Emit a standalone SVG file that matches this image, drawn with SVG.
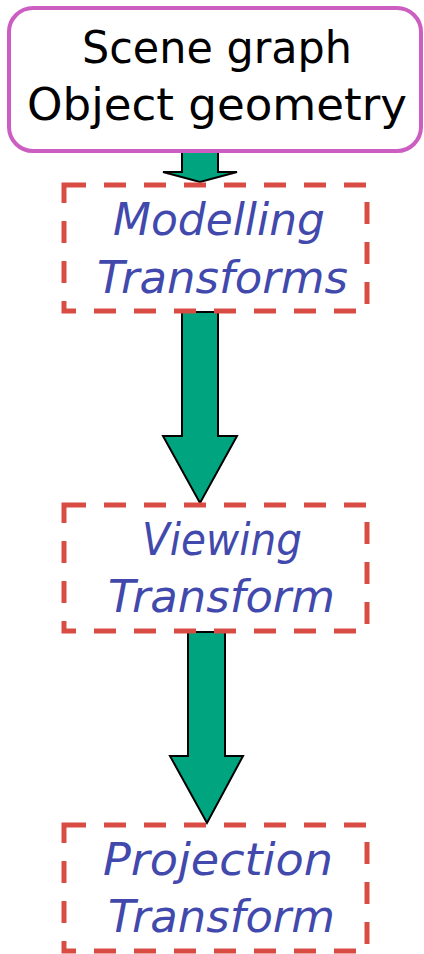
<svg xmlns="http://www.w3.org/2000/svg" width="424" height="954" viewBox="0 0 424 954">
<style>
.t{font-family:"DejaVu Sans","Liberation Sans",sans-serif;font-size:44px}
.k{fill:#000}
.b{fill:#4249ad;font-style:italic}
.box{fill:#fff;stroke:#d94c44;stroke-width:5;stroke-dasharray:22 18}
.arr{fill:#00a57f;stroke:#000;stroke-width:2;stroke-linejoin:miter}
</style>
<rect width="424" height="954" fill="#fff"/>
<g id="connectors">
<polygon class="arr" points="182,150 218,150 218,172 237,172 200,182 163,172 182,172"/>
<polygon class="arr" points="182,312 218,312 218,436 237,436 200,503 163,436 182,436"/>
<polygon class="arr" points="188,632 225,632 225,756 243,756 207,823 170,756 188,756"/>
</g>
<g id="scene">
<rect x="9" y="8" width="412" height="143" rx="24" fill="#fff" stroke="#cc5ec2" stroke-width="4"/>
<text class="t k" x="82" y="63" textLength="270" lengthAdjust="spacingAndGlyphs">Scene graph</text>
<text class="t k" x="27" y="120" textLength="380" lengthAdjust="spacingAndGlyphs">Object geometry</text>
</g>
<g id="modelling">
<rect class="box" x="64" y="185" width="303" height="126"/>
<text class="t b" x="113" y="235" textLength="212" lengthAdjust="spacingAndGlyphs">Modelling</text>
<text class="t b" x="97" y="293" textLength="251" lengthAdjust="spacingAndGlyphs">Transforms</text>
</g>
<g id="viewing">
<rect class="box" x="64" y="505" width="303" height="126"/>
<text class="t b" x="142" y="555" textLength="160" lengthAdjust="spacingAndGlyphs">Viewing</text>
<text class="t b" x="108" y="612" textLength="227" lengthAdjust="spacingAndGlyphs">Transform</text>
</g>
<g id="projection">
<rect class="box" x="64" y="825" width="303" height="126"/>
<text class="t b" x="103" y="875" textLength="230" lengthAdjust="spacingAndGlyphs">Projection</text>
<text class="t b" x="108" y="932" textLength="227" lengthAdjust="spacingAndGlyphs">Transform</text>
</g>
</svg>
